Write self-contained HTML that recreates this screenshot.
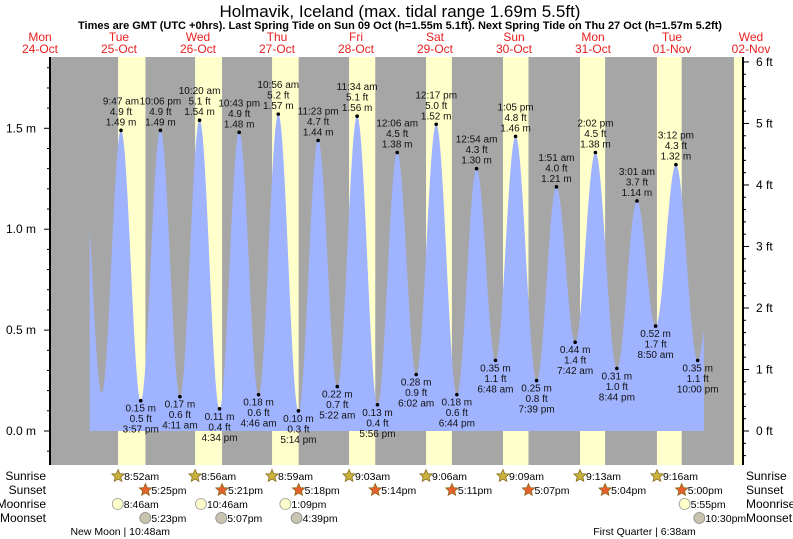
<!DOCTYPE html>
<html><head><meta charset="utf-8"><style>
body{margin:0;background:#fff}
svg{display:block;font-family:"Liberation Sans",sans-serif}
</style></head><body>
<svg id="c" width="793" height="539" viewBox="0 0 793 539" xmlns="http://www.w3.org/2000/svg">
<text x="400" y="17" font-size="17" text-anchor="middle">Holmavik, Iceland (max. tidal range 1.69m 5.5ft)</text>
<text x="400" y="29" font-size="11" font-weight="bold" text-anchor="middle">Times are GMT (UTC +0hrs). Last Spring Tide on Sun 09 Oct (h=1.55m 5.1ft). Next Spring Tide on Thu 27 Oct (h=1.57m 5.2ft)</text>
<g id="days"></g>
<g id="bg"></g>
<g id="tide"></g>
<g id="axes"></g>
<g id="labels" font-size="10" text-anchor="middle" fill="#111"></g>
<g id="astro" font-size="10.5"></g>
</svg>
<script>
const dayNames=["Mon","Tue","Wed","Thu","Fri","Sat","Sun","Mon","Tue","Wed"];
const dayDates=["24-Oct","25-Oct","26-Oct","27-Oct","28-Oct","29-Oct","30-Oct","31-Oct","01-Nov","02-Nov"];
const tideDay=[24,25,25,25,25,26,26,26,26,27,27,27,27,28,28,28,29,29,29,29,30,30,30,30,31,31,31,31,32,32,32,32];
const tideTime=["21:30","03:45","09:47","15:57","22:06","04:11","10:20","16:34","22:43","04:46","10:56","17:14","23:23","05:22","11:34","17:56","00:06","06:02","12:17","18:44","00:54","06:48","13:05","19:39","01:51","07:42","14:02","20:44","03:01","08:50","15:12","22:00"];
const tideM=[1.45,0.19,1.49,0.15,1.49,0.17,1.54,0.11,1.48,0.18,1.57,0.10,1.44,0.22,1.56,0.13,1.38,0.28,1.52,0.18,1.30,0.35,1.46,0.25,1.21,0.44,1.38,0.31,1.14,0.52,1.32,0.35];
const tideShown=[0,0,1,1,1,1,1,1,1,1,1,1,1,1,1,1,1,1,1,1,1,1,1,1,1,1,1,1,1,1,1,1];
const sunDay=[25,26,27,28,29,30,31,32,33];
const sunrise=["8:52","8:56","8:59","9:03","9:06","9:09","9:13","9:16","9:19"];
const sunset=["17:25","17:21","17:18","17:14","17:11","17:07","17:04","17:00","16:57"];
const moonDay=[25,26,27,32];
const moonrise=["8:46","10:46","13:09","17:55"];
const moonset=["17:23","17:07","16:39","22:30"];
const phaseDay=[25,32];
const phaseTime=["10:48","6:38"];
const phaseName=["New Moon","First Quarter"];

const NS="http://www.w3.org/2000/svg";
const PL=50,PR=743,PT=57,PB=465;
const X0=89.7,PXD=76.8;
const Y0=431,PXM=201.8;
function hrs(s){const p=s.split(":");return +p[0]+p[1]/60;}
function xOf(d,t){return X0+PXD*((d-25)+hrs(t)/24);}
function yOf(m){return Y0-m*PXM;}
function el(tag,attrs,parent,txt){const e=document.createElementNS(NS,tag);for(const k in attrs)e.setAttribute(k,attrs[k]);if(txt!==undefined)e.textContent=txt;parent.appendChild(e);return e;}
function fmt12(t){let h=Math.floor(hrs(t)),m=t.split(":")[1];const ap=h>=12?"pm":"am";let hh=h%12;if(hh==0)hh=12;return hh+":"+m+ap;}

const gd=document.getElementById("days");
dayNames.forEach((n,i)=>{
  const x=40+79*i;
  const t=el("text",{x:x,y:41,"font-size":12,fill:"#e82020","text-anchor":"middle"},gd,n);
  
  
  const t2=el("text",{x:x,y:53,"font-size":12,fill:"#e82020","text-anchor":"middle"},gd,dayDates[i]);
  
  
});

const gb=document.getElementById("bg");
const bgr=el("rect",{x:PL,y:PT,width:PR-PL,height:PB-PT,fill:"#a6a6a6"},gb);


sunDay.forEach((d,i)=>{
  const x1=xOf(d,sunrise[i]);let x2=xOf(d,sunset[i]);
  if(x1>=PR)return;x2=Math.min(x2,PR);
  const r=el("rect",{x:x1,y:PT,width:x2-x1,height:PB-PT,fill:"#ffffcc"},gb);
  
  
});

const gt=document.getElementById("tide");
const xs=tideDay.map((d,i)=>xOf(d,tideTime[i]));
const xStart=xOf(25,"0:00"),xEnd=xOf(33,"0:00");
let pts=[];
const ex=xs.concat([xOf(33,"4:10")]),em=tideM.concat([1.10]);
for(let x=xStart;x<=xEnd+0.01;x+=0.5){
  let k=0;while(k<ex.length-2&&ex[k+1]<x)k++;
  const f=(x-ex[k])/(ex[k+1]-ex[k]);
  const m=em[k]+(em[k+1]-em[k])*(1-Math.cos(Math.PI*f))/2;
  pts.push(x.toFixed(1)+","+yOf(m).toFixed(1));
}
const d="M"+xStart+","+Y0+" L"+pts.join(" L")+" L"+xEnd+","+Y0+" Z";
const tp=el("path",{d:d,fill:"#a0b3ff"},gt);



const ga=document.getElementById("axes");
el("line",{x1:PL,y1:PT,x2:PL,y2:PB,stroke:"#000","stroke-width":2},ga);
el("line",{x1:PR,y1:PT,x2:PR,y2:PB,stroke:"#000","stroke-width":2},ga);
for(let i=-1;i<=18;i++){
  const m=i/10,y=yOf(m);if(y<PT||y>PB)continue;
  const major=i%5==0;
  el("line",{x1:PL-(major?6:3),y1:y,x2:PL,y2:y,stroke:"#000"},ga);
  if(major){const t=el("text",{x:36,y:y+4,"font-size":12,"text-anchor":"end"},ga,m.toFixed(1)+" m");
    }
}
for(let i=-2;i<=30;i++){
  const ft=i/5,y=Y0-ft*0.3048*PXM;if(y<PT-1||y>PB)continue;
  const major=i%5==0;
  el("line",{x1:PR,y1:y,x2:PR+(major?6:3),y2:y,stroke:"#000"},ga);
  if(major){const t=el("text",{x:756,y:y+4,"font-size":12},ga,ft+" ft");
    }
}

const gl=document.getElementById("labels");
tideM.forEach((m,i)=>{
  if(!tideShown[i])return;
  const x=xs[i],y=yOf(m);
  const high=i<tideM.length-1?m>tideM[i+1]:m>tideM[i-1];
  const c=el("circle",{cx:x,cy:y,r:1.8,fill:"#000"},gl);
  
  
  const tm=fmt12(tideTime[i]).replace(/(am|pm)/," $1");
  const ft=(m*3.28084).toFixed(1)+" ft",ms=m.toFixed(2)+" m";
  const lines=high?[tm,ft,ms]:[ms,ft,tm];
  const base=high?y-5-21:y+11;
  lines.forEach((s,j)=>{const t=el("text",{x:x,y:base+j*10.5},gl,s);
    });
});

const gs=document.getElementById("astro");
const rows=["Sunrise","Sunset","Moonrise","Moonset"],ry=[476,490,504,518];
rows.forEach((r,i)=>{
  const a=el("text",{x:46,y:ry[i]+4,"font-size":12,"text-anchor":"end"},gs,r);
  
  const b=el("text",{x:746,y:ry[i]+4,"font-size":12},gs,r);
  
});
function star(cx,cy,fill){let p=[];for(let k=0;k<10;k++){const r=k%2?3:6.5,a=-Math.PI/2+k*Math.PI/5;p.push((cx+r*Math.cos(a)).toFixed(1)+","+(cy+r*Math.sin(a)).toFixed(1));}
  return el("polygon",{points:p.join(" "),fill:fill,stroke:"#8a6a20","stroke-width":0.8},gs);}
sunDay.forEach((d,i)=>{
  if(d>32)return;
  const x1=xOf(d,sunrise[i]),x2=xOf(d,sunset[i]);
  const s1=star(x1,ry[0],"#c8b43c");
  const t1=el("text",{x:x1+6,y:ry[0]+4},gs,fmt12(sunrise[i]));
  const s2=star(x2,ry[1],"#e8602c");
  const t2=el("text",{x:x2+6,y:ry[1]+4},gs,fmt12(sunset[i]));
});
moonDay.forEach((d,i)=>{
  const x1=xOf(d,moonrise[i]),x2=xOf(d,moonset[i]);
  const c1=el("circle",{cx:x1,cy:ry[2],r:5.5,fill:"#ffffcc",stroke:"#999","stroke-width":0.8},gs);
  const t1=el("text",{x:x1+6,y:ry[2]+4},gs,fmt12(moonrise[i]));
  const c2=el("circle",{cx:x2,cy:ry[3],r:5.5,fill:"#c8c4b0",stroke:"#888","stroke-width":0.8},gs);
  const t2=el("text",{x:x2+6,y:ry[3]+4},gs,fmt12(moonset[i]));
});
phaseDay.forEach((d,i)=>{
  const x=xOf(d,phaseTime[i]);
  const t=el("text",{x:x-4,y:535,"text-anchor":"middle"},gs,phaseName[i]+" | "+fmt12(phaseTime[i]));
  
});
</script>
</body></html>
